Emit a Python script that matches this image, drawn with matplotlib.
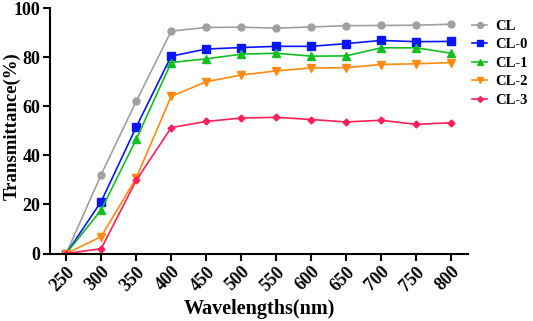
import matplotlib
matplotlib.use("Agg")
import matplotlib.pyplot as plt

wavelengths = [250, 300, 350, 400, 450, 500, 550, 600, 650, 700, 750, 800]
cl   = [0, 32.2, 62.0, 90.6, 92.1, 92.2, 91.8, 92.3, 92.8, 92.9, 93.0, 93.4]
cl0  = [0, 21.2, 51.5, 80.4, 83.3, 83.9, 84.4, 84.4, 85.5, 86.8, 86.3, 86.4]
cl1  = [0, 17.8, 46.5, 77.8, 79.3, 81.2, 81.6, 80.4, 80.5, 83.8, 83.8, 81.6]
cl2  = [0, 6.9, 30.8, 64.0, 70.0, 72.7, 74.4, 75.6, 75.7, 77.0, 77.3, 77.8]
cl3  = [0, 2.0, 29.8, 51.3, 53.8, 55.2, 55.5, 54.6, 53.6, 54.3, 52.6, 53.3]
labels = ["CL", "CL-0", "CL-1", "CL-2", "CL-3"]
yticks = [0, 20, 40, 60, 80, 100]

series = [cl, cl0, cl1, cl2, cl3]
colors = ["#a0a0a0", "#0a14ff", "#10c020", "#ff8a10", "#ff1f5a"]
markers = ["o", "s", "^", "v", "D"]
msizes = [5, 5.5, 5.5, 5.5, 3.5]

plt.rcParams["font.family"] = ["Liberation Serif", "DejaVu Serif"]
plt.rcParams["font.weight"] = "bold"

fig = plt.figure(figsize=(5.33, 3.21), dpi=100)
ax = fig.add_axes([0.094, 0.21, 0.784, 0.765])

for y, c, m, ms, lab in zip(series, colors, markers, msizes, labels):
    ax.plot(wavelengths, y, color=c, marker=m, markersize=ms, linewidth=1.2, label=lab)

ax.set_xlim(227, 824)
ax.set_ylim(0, 100)
ax.set_xticks(wavelengths)
ax.set_xticklabels([str(w) for w in wavelengths], rotation=45, fontsize=13,
                   fontweight="bold", ha="right", rotation_mode="anchor")
ax.set_yticks(yticks)
ax.set_yticklabels([str(v) for v in yticks], fontsize=13, fontweight="bold")
ax.tick_params(axis="both", direction="out", width=1.5, length=5, pad=2)
for s in ["top", "right"]:
    ax.spines[s].set_visible(False)
for s in ["left", "bottom"]:
    ax.spines[s].set_linewidth(1.5)

ax.set_xlabel("Wavelengths(nm)", fontsize=14.5, fontweight="bold")
ax.xaxis.set_label_coords(0.5, -0.185)
ax.set_ylabel("Transmittance(%)", fontsize=13.5, fontweight="bold", va="center")
ax.yaxis.set_label_coords(-0.092, 0.52)

leg = ax.legend(loc="upper left", bbox_to_anchor=(1.0, 0.97), frameon=False,
                prop={"weight": "bold", "size": 10.5}, handlelength=1.0,
                handletextpad=0.6, labelspacing=0.36, borderaxespad=0.0,
                borderpad=0.3, markerscale=0.85)

fig.savefig("out.png", dpi=100)
